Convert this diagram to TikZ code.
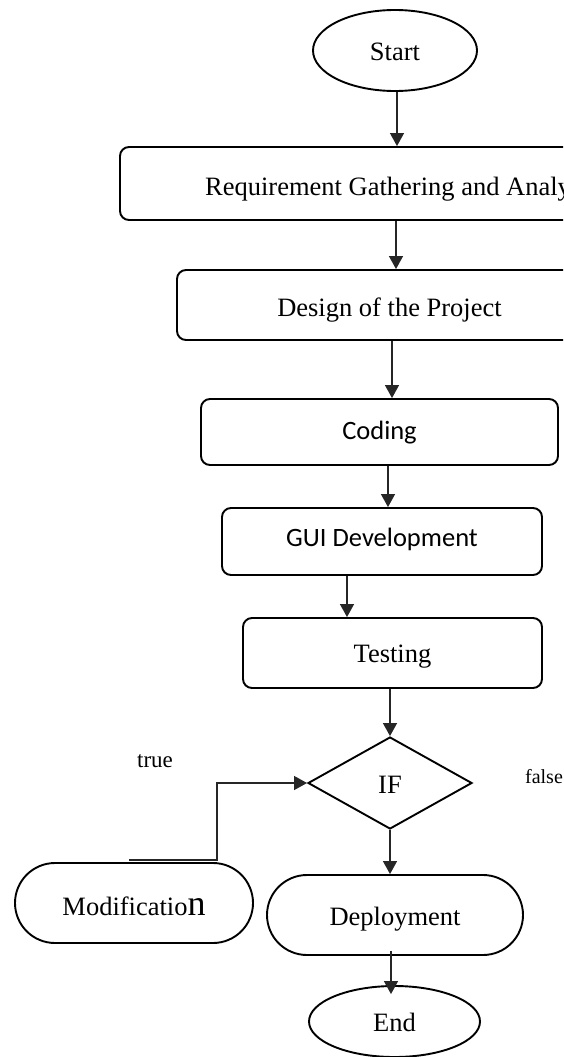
\documentclass[tikz,border=0pt]{standalone}
\usepackage{fontspec}
\setmainfont{Liberation Serif}
\newfontfamily\calibrifont{Carlito}
\usetikzlibrary{shapes.geometric,shapes.misc,arrows.meta}
\begin{document}
\begin{tikzpicture}[x=1pt,y=-1pt,
  base/.style={draw=black,line width=1.9pt,font=\fontsize{26.5}{30}\selectfont,inner sep=0pt,text depth=2.5pt,align=center},
  procbox/.style={base,rectangle,rounded corners=9pt},
  sansbox/.style={procbox,font=\calibrifont\fontsize{26.5}{30}\selectfont},
  term/.style={base,ellipse},
  pill/.style={base,rounded rectangle},
  dec/.style={base,diamond},
  arr/.style={draw=black!85,line width=1.3pt,-{Triangle[length=13pt,width=14pt]}},
  lbl/.style={inner sep=0pt}
]
\useasboundingbox (0,0) rectangle (563,1057);
\clip (0,0) rectangle (563,1057);

\node[term,minimum width=164pt,minimum height=81pt,text height=23pt] (start) at (395,50.5) {Start};
\node[procbox,minimum width=564pt,minimum height=73pt,text height=26pt] (req) at (402,183.5) {Requirement Gathering and Analysis};
\node[procbox,minimum width=425pt,minimum height=70pt,text height=26pt] (design) at (389.5,305) {Design of the Project};
\node[sansbox,minimum width=357pt,minimum height=66pt,text height=18pt] (coding) at (379.5,432) {Coding};
\node[sansbox,minimum width=320pt,minimum height=67pt,text height=13pt] (gui) at (382,541.5) {GUI Development};
\node[procbox,minimum width=299pt,minimum height=70pt,text height=22pt] (test) at (392.5,653) {Testing};
\node[dec,minimum width=164pt,minimum height=92pt,text height=24pt] (if) at (390,783) {IF};
\node[pill,minimum width=238pt,minimum height=80pt,text height=28pt] (mod) at (134,903) {Modificatio{\fontsize{36}{40}\selectfont n}};
\node[pill,minimum width=256pt,minimum height=80pt,text height=24pt] (deploy) at (395,915) {Deployment};
\node[term,minimum width=171pt,minimum height=71pt,text height=23pt] (end) at (394.5,1021.5) {End};

\node[lbl,font=\fontsize{23}{26}\selectfont] (truelbl) at (155,761) {true};
\node[lbl,font=\fontsize{20}{24}\selectfont] (falselbl) at (544,777) {false};

\draw[arr] (start.south -| 397,0) -- (req.north -| 397,0);
\draw[arr] (req.south -| 396,0) -- (design.north -| 396,0);
\draw[arr] (design.south -| 392,0) -- (coding.north -| 392,0);
\draw[arr] (coding.south -| 388,0) -- (gui.north -| 388,0);
\draw[arr] (gui.south -| 347,0) -- (test.north -| 347,0);
\draw[arr] (test.south -| if.north) -- (if.north);
\draw[arr] (if.south) -- (deploy.north -| if.south);
\draw[arr] ([yshift=5pt]deploy.south -| 391,0) -- ([yshift=-9pt]end.north -| 391,0);
\draw[arr] ([xshift=-5pt,yshift=2pt]mod.north) -| ([xshift=-90pt]if.west) -- (if.west);
\end{tikzpicture}
\end{document}
